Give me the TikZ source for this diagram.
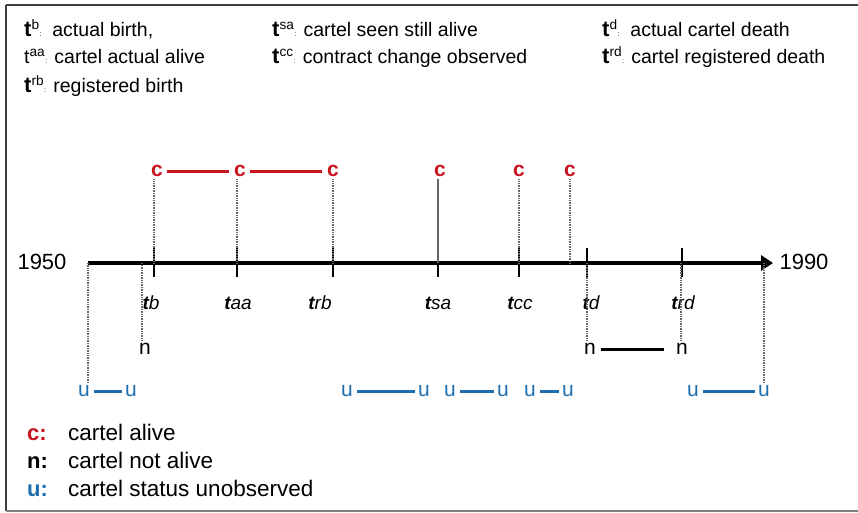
\documentclass[tikz,border=0pt]{standalone}
\usepackage{fontspec}
\setmainfont{Liberation Sans}
\usetikzlibrary{arrows.meta}
\definecolor{cred}{RGB}{200,20,30}
\definecolor{ublue}{RGB}{30,110,175}
\newcommand{\bigt}{{\fontsize{22}{22}\selectfont\bfseries t}}
\begin{document}
\begin{tikzpicture}[x=1pt,y=-1pt,
  lbl/.style={font=\fontsize{19.5}{22}\selectfont, anchor=base west, inner sep=0pt},
  key/.style={font=\fontsize{22}{24}\selectfont\bfseries, anchor=base west, inner sep=0pt},
  keytxt/.style={font=\fontsize{22.5}{24}\selectfont, anchor=base west, inner sep=0pt},
  cl/.style={text=cred, font=\fontsize{21}{22}\selectfont\bfseries, inner sep=2.5pt},
  ul/.style={text=ublue, font=\fontsize{21}{22}\selectfont, inner sep=2pt},
  nl/.style={font=\fontsize{21}{22}\selectfont, inner sep=2.5pt},
  tl/.style={font=\fontsize{19}{20}\selectfont\itshape, inner sep=0pt},
  yr/.style={font=\fontsize{22}{26}\selectfont, inner sep=0pt},
  dotline/.style={black!60, line width=1.3pt, dash pattern=on 1pt off 0.7pt},
  solidthin/.style={black!60, line width=1.1pt},
  tickmark/.style={line width=2pt},
  redline/.style={cred, line width=3pt, shorten <=1pt, shorten >=2pt},
  blueline/.style={ublue, line width=3pt, shorten <=2pt, shorten >=1pt},
  blackline/.style={line width=3pt, shorten <=2pt, shorten >=9pt},
]
\useasboundingbox (0,0) rectangle (858,513);
% frame
\draw[line width=2.5pt, black!75] (6,5) -- (858,5);
\draw[line width=1.6pt, black!75] (6,5) -- (6,511);
\draw[line width=2pt, black!50] (6,511) -- (858,511);

% top legend
\node[lbl] (l1) at (24,37) {\bigt\textsuperscript{b}{\scriptsize:}\ \ actual birth,};
\node[lbl] (l2) at (24,64) {t\textsuperscript{aa}{\scriptsize:} cartel actual alive};
\node[lbl] (l3) at (24,93) {\bigt\textsuperscript{rb}{\scriptsize:} registered birth};
\node[lbl] (l4) at (272,37) {\bigt\textsuperscript{sa}{\scriptsize:} cartel seen still alive};
\node[lbl] (l5) at (272,64) {\bigt\textsuperscript{cc}{\scriptsize:} contract change observed};
\node[lbl] (l6) at (602,37) {\bigt\textsuperscript{d}{\scriptsize:}\ \ actual cartel death};
\node[lbl] (l7) at (602,64) {\bigt\textsuperscript{rd}{\scriptsize:} cartel registered death};

% axis
\coordinate (a0) at (88,263);
\coordinate (a1) at (773,263);
\draw[line width=4.5pt, -{Triangle[length=12pt,width=15pt]}] (a0) -- (a1);
\node[yr] (y0) at (42,262) {1950};
\node[yr] (y1) at (804,262) {1990};

% ticks
\foreach \x in {154,237,333,438,519,587,682}
  \draw[tickmark] (\x,248) -- (\x,277);

% c labels
\node[cl] (c1) at (157,171) {c};
\node[cl] (c2) at (240,171) {c};
\node[cl] (c3) at (333,171) {c};
\node[cl] (c4) at (440,171) {c};
\node[cl] (c5) at (519,171) {c};
\node[cl] (c6) at (570,171) {c};
\draw[dotline] (c1.south -| 154,0) -- (154,263);
\draw[dotline] (c2.south -| 237,0) -- (237,263);
\draw[dotline] (c3.south) -- (c3.south |- a0);
\draw[solidthin] (c4.south -| 438,0) -- (438,263);
\draw[dotline] (c5.south) -- (c5.south |- a0);
\draw[dotline] (c6.south) -- (c6.south |- a0);
\draw[redline] (c1.east) -- (c2.west);
\draw[redline] (c2.east) -- (c3.west);

% tick labels
\node[tl] (tb) at (151,303) {{\bfseries t}b};
\node[tl] (taa) at (238,303) {{\bfseries t}aa};
\node[tl] (trb) at (320,303) {{\bfseries t}rb};
\node[tl] (tsa) at (438,303) {{\bfseries t}sa};
\node[tl] (tcc) at (520,303) {{\bfseries t}cc};
\node[tl] (td) at (591,303) {{\bfseries t}d};
\node[tl] (trd) at (683,303) {{\bfseries t}rd};

% n labels
\node[nl] (n1) at (145,349) {n};
\node[nl] (n2) at (590,349) {n};
\node[nl] (n3) at (682,349) {n};
\draw[dotline] (n1.north -| 142,0) -- (142,263);
\draw[dotline] (n2.north -| 587,0) -- (587,263);
\draw[dotline] (n3.north -| 681,0) -- (681,263);
\draw[blackline] (n2.east) -- (n3.west);

% u labels
\node[ul] (u1) at (84,391) {u};
\node[ul] (u2) at (131,391) {u};
\node[ul] (u3) at (347,391) {u};
\node[ul] (u4) at (424,391) {u};
\node[ul] (u5) at (450,391) {u};
\node[ul] (u6) at (503,391) {u};
\node[ul] (u7) at (530,391) {u};
\node[ul] (u8) at (568,391) {u};
\node[ul] (u9) at (693,391) {u};
\node[ul] (u10) at (764,391) {u};
\draw[dotline] (a0) -- (a0 |- u1.north);
\draw[dotline] (u10.north) -- (u10.north |- a0);
\draw[blueline] (u1.east) -- (u2.west);
\draw[blueline] (u3.east) -- (u4.west);
\draw[blueline] (u5.east) -- (u6.west);
\draw[blueline] (u7.east) -- (u8.west);
\draw[blueline] (u9.east) -- (u10.west);

% bottom legend
\node[key, text=cred] (kc) at (27,440) {c:};
\node[keytxt] (kct) at (68,440) {cartel alive};
\node[key] (kn) at (27,468) {n:};
\node[keytxt] (knt) at (68,468) {cartel not alive};
\node[key, text=ublue] (ku) at (27,496) {u:};
\node[keytxt] (kut) at (68,496) {cartel status unobserved};
\end{tikzpicture}
\end{document}
